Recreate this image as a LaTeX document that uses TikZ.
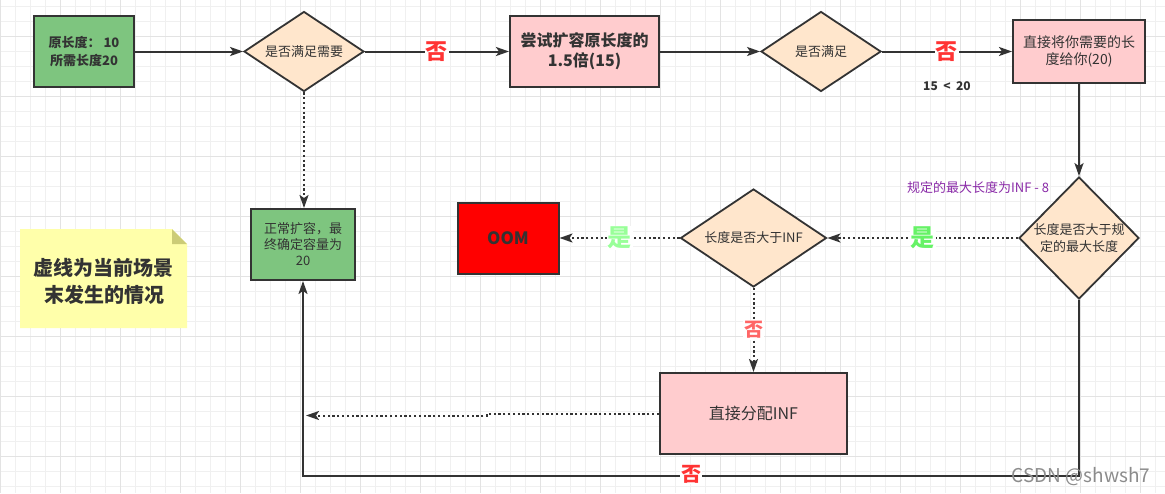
\documentclass[tikz,border=0pt]{standalone}
\usepackage{fontspec}
\setmainfont{Noto Sans CJK SC}
\usetikzlibrary{shapes.geometric,arrows.meta,positioning}

\definecolor{linec}{HTML}{333333}
\definecolor{okgreen}{HTML}{7EC57F}
\definecolor{peach}{HTML}{FFE6CC}
\definecolor{pinkbox}{HTML}{FFCCCE}
\definecolor{oomred}{HTML}{FF0000}
\definecolor{notefill}{HTML}{FFFFAA}
\definecolor{notefold}{HTML}{CCCC77}
\definecolor{nored}{HTML}{FF3333}
\definecolor{nolight}{HTML}{FF6666}
\definecolor{yesgreen}{HTML}{66F266}
\definecolor{yespale}{HTML}{99FF99}
\definecolor{maxpurple}{HTML}{8A2BA8}
\definecolor{gridminor}{HTML}{F0F0F0}
\definecolor{gridmajor}{HTML}{E3E3E3}

\newcommand{\fs}[2]{\fontsize{#1}{#2}\selectfont}

\tikzset{
  every node/.style={text=linec},
  box/.style={draw=linec, line width=2pt, align=center, inner sep=2pt},
  decision/.style={diamond, draw=linec, fill=peach, line width=1.8pt, inner sep=0pt},
  flow/.style={draw=linec, line width=2pt, -{Stealth[length=13pt,width=9pt,inset=3pt]}},
  flowdot/.style={flow, dash pattern=on 2.2pt off 2.6pt},
  nolbl/.style={fill=white, inner sep=1pt, text=nored, font=\fs{22}{22}\bfseries},
  yeslbl/.style={fill=white, inner sep=1pt, text=yesgreen, font=\fs{24}{24}\bfseries}
}

\begin{document}
\begin{tikzpicture}[x=1pt,y=-1pt]
\useasboundingbox (0,0) rectangle (1165,493);
\fill[white] (0,0) rectangle (1165,493);
\foreach \x in {0,15,...,1160} \draw[gridminor, line width=0.8pt] (\x,0) -- (\x,493);
\foreach \y in {6.7,21.7,...,493} \draw[gridminor, line width=0.8pt] (0,\y) -- (1165,\y);
\foreach \x in {0,60,...,1160} \draw[gridmajor, line width=0.8pt] (\x,0) -- (\x,493);
\foreach \y in {36.7,96.7,...,493} \draw[gridmajor, line width=0.8pt] (0,\y) -- (1165,\y);

\node (start) at (84,51.5) [box, fill=okgreen, minimum width=100pt, minimum height=71pt, font=\fs{13}{18}\bfseries] {原长度： 10\\所需长度20};
\node (q1) at (304,51.5) [decision, minimum width=120pt, minimum height=80pt, label={[font=\fs{13}{17}]center:是否满足需要}] {};
\node (try) at (584.5,51.5) [box, fill=pinkbox, minimum width=149pt, minimum height=71pt, font=\fs{16}{20}\bfseries] {尝试扩容原长度的\\1.5倍(15)};
\node (q2) at (821,51.5) [decision, minimum width=120pt, minimum height=80pt, label={[font=\fs{13}{17}]center:是否满足}] {};
\node (give) at (1079,51.5) [box, fill=pinkbox, minimum width=132pt, minimum height=63pt, font=\fs{14}{17}] {直接将你需要的长\\度给你(20)};
\node (q3) at (1079,238) [decision, minimum width=120pt, minimum height=122pt, label={[font=\fs{13}{17}, align=center]center:长度是否大于规\\定的最大长度}] {};
\node (q4) at (753.5,238) [decision, minimum width=146pt, minimum height=98pt, label={[font=\fs{13}{17}]center:长度是否大于INF}] {};
\node (oom) at (508,238) [box, fill=oomred, minimum width=101pt, minimum height=71pt, font=\fs{17}{20}\bfseries] {OOM};
\node (alloc) at (753.5,413.5) [box, fill=pinkbox, minimum width=187pt, minimum height=81pt, font=\fs{16}{20}] {直接分配INF};
\node (ok) at (303,244.5) [box, fill=okgreen, minimum width=104pt, minimum height=71pt, font=\fs{13}{16}] {正常扩容，最\\终确定容量为\\20};

\draw[flow] (start) -- (q1);
\draw[flow] (q1) -- node[nolbl] (no1) {否} (try);
\draw[flow] (try) -- (q2);
\draw[flow] (q2) -- node[nolbl] (no2) {否} (give);
\node (cmp) at (947,86) [font=\fs{12}{14}\bfseries] {15 ~<~ 20};
\draw[flow] (give) -- (q3);
\node (maxnote) at (978,188) [text=maxpurple, font=\fs{13}{15}] {规定的最大长度为INF - 8};
\draw[flowdot] (q3) -- node[yeslbl] (yes1) {是} (q4);
\draw[flowdot] (q4) -- node[yeslbl, text=yespale] (yes2) {是} (oom);
\draw[flowdot] (q4) -- node[nolbl, text=nolight, font=\fs{19}{19}\bfseries] (no3) {否} (alloc);
\draw[flowdot] (q1.south) -- (q1.south |- ok.north);
\coordinate (back) at (306,415.5);
\draw[flowdot] (alloc.west) -- ++(-172,0) -- ++(0,2) -- (back);
\coordinate (br) at (1079,476);
\coordinate (bl) at (303,476);
\draw[flow] (q3.south) -- (br) -- node[nolbl, font=\fs{20}{20}\bfseries, yshift=2pt] (no4) {否} (bl) -- (ok.south);

\fill[notefill] (20,229) -- (172,229) -- (187,244) -- (187,328) -- (20,328) -- cycle;
\fill[notefold] (172,229) -- (187,244) -- (172,244) -- cycle;
\node (note) at (104,281.5) [align=center, font=\fs{20}{27}\bfseries] {虚线为当前场景\\末发生的情况};

\node (wm) at (1081,477) [text=gray!90, font=\fs{19}{19}] {CSDN @shwsh7};
\end{tikzpicture}
\end{document}
